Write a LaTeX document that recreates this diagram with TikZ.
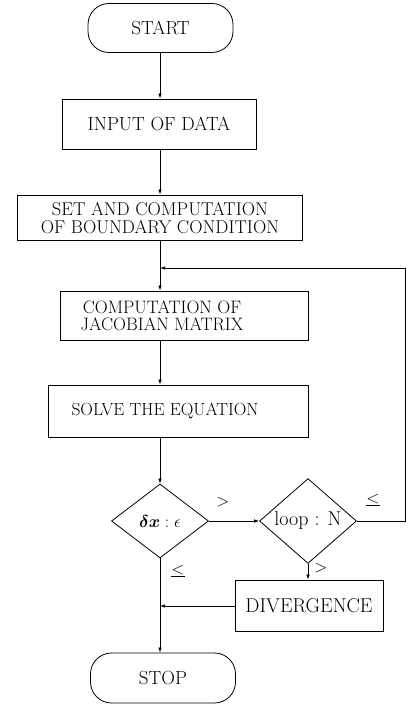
\documentclass[tikz,border=0pt]{standalone}
\usepackage{bm}
\usepackage{fontspec}
\usetikzlibrary{shapes.geometric,arrows.meta}
\begin{document}
\begin{tikzpicture}[x=1pt,y=-1pt,
  every node/.style={inner sep=0pt},
  txt/.style={font=\fontsize{18}{17.5}\selectfont, align=center},
  procbox/.style={draw, line width=0.8pt, rectangle},
  termbox/.style={draw, line width=0.8pt, rectangle, rounded corners=21pt, font=\fontsize{19}{19}\selectfont},
  decbox/.style={draw, line width=0.8pt, diamond, minimum width=97pt, minimum height=74pt, font=\fontsize{19}{19}\selectfont},
  conn/.style={line width=0.7pt},
  arr/.style={conn, -{Latex[length=5pt,width=3.5pt]}},
  lbl/.style={font=\fontsize{19}{19}\selectfont}
]
\useasboundingbox (0,0) rectangle (414,708);
\coordinate (axis) at (160,0);
\node[termbox, minimum width=145pt, minimum height=49pt] (start) at (160.5,28) {START};
\node[procbox, minimum width=194pt, minimum height=50pt, font=\fontsize{19}{19}\selectfont] (input) at (159,124) {INPUT OF DATA};
\node[procbox, minimum width=285pt, minimum height=45pt] (setb) at (159.5,217.5) {};
\node[txt, font=\fontsize{18.5}{18}\selectfont] (setbt) at (160,218) {SET AND COMPUTATION\\OF BOUNDARY CONDITION};
\node[procbox, minimum width=248pt, minimum height=49pt] (jac) at (184,315.5) {};
\node[txt] (jact) at (162,316) {COMPUTATION OF\\JACOBIAN MATRIX};
\node[procbox, minimum width=260pt, minimum height=52pt] (solve) at (178,411) {};
\node[txt, font=\fontsize{17.5}{17.5}\selectfont] (solvet) at (165,411) {SOLVE THE EQUATION};
\node[decbox] (d1) at (160,521) {$\bm{\delta x} : \epsilon$};
\node[decbox, font=\fontsize{20}{20}\selectfont] (d2) at (308,521) {loop : N};
\node[procbox, minimum width=148pt, minimum height=51pt, font=\fontsize{20}{20}\selectfont] (div) at (309,605.5) {DIVERGENCE};
\node[termbox, minimum width=145pt, minimum height=50pt] (stop) at (163,678) {STOP};
\coordinate (fbr) at (405,521);
\coordinate (fbt) at (405,268);
\coordinate (fbj) at (160,268);
\coordinate (divj) at (160,606);

\draw[arr] (start.south -| axis) -- (input.north -| axis);
\draw[arr] (input.south -| axis) -- (setb.north -| axis);
\draw[arr] (setb.south -| axis) -- (jac.north -| axis);
\draw[arr] (jac.south -| axis) -- (solve.north -| axis);
\draw[arr] (solve.south -| axis) -- (d1.north);
\draw[arr] (d1.east) -- (d2.west);
\draw[arr] (d2.east) -- (fbr) -- (fbt) -- (fbj);
\draw[arr] (d1.south) -- (stop.north -| axis);
\draw[arr] (d2.south) -- (div.north -| d2.south);
\draw[arr] (div.west |- divj) -- (divj);

\node[lbl] (lgt1) at (223,502) {$>$};
\node[lbl] (lle1) at (373,500) {$\underline{<}$};
\node[lbl] (lgt2) at (321,568) {$>$};
\node[lbl] (lle2) at (178,571) {$\underline{<}$};
\end{tikzpicture}
\end{document}
